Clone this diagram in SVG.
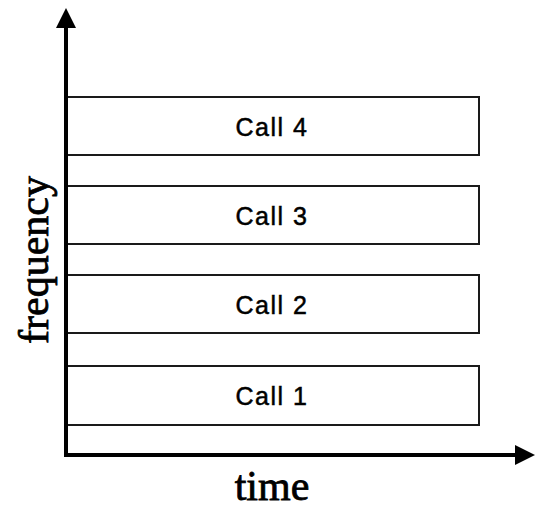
<svg xmlns="http://www.w3.org/2000/svg" width="536" height="508" viewBox="0 0 536 508">
  <style>
    .band { fill: #ffffff; stroke: #1a1a1a; stroke-width: 2; }
    .label { font-family: "Liberation Sans", Arial, sans-serif; font-size: 25px; letter-spacing: 1.5px; fill: #000; stroke: #000; stroke-width: 0.5; text-anchor: middle; }
    .axis { stroke: #000; stroke-width: 4; fill: none; }
    .axis-title { font-family: "Liberation Serif", "Times New Roman", serif; font-size: 42px; fill: #000; stroke: #000; stroke-width: 0.8; text-anchor: middle; }
  </style>
  <defs>
    <marker id="arrow" viewBox="0 0 10 10" refX="2" refY="5" markerWidth="5" markerHeight="6" markerUnits="strokeWidth" orient="auto">
      <path d="M0,0 L10,5 L0,10 Z" fill="#000"/>
    </marker>
  </defs>
  <rect width="536" height="508" fill="#ffffff"/>

  <g id="call4"><rect class="band" x="66" y="97" width="413" height="58"/><text class="label" x="272" y="136">Call 4</text></g>
  <g id="call3"><rect class="band" x="66" y="186" width="413" height="58"/><text class="label" x="272" y="225">Call 3</text></g>
  <g id="call2"><rect class="band" x="66" y="275" width="413" height="58"/><text class="label" x="272" y="314">Call 2</text></g>
  <g id="call1"><rect class="band" x="66" y="366" width="413" height="59"/><text class="label" x="272" y="405">Call 1</text></g>

  <g id="axes">
    <line class="axis" x1="66" y1="457" x2="66" y2="24" marker-end="url(#arrow)"/>
    <line class="axis" x1="64" y1="455" x2="519" y2="455" marker-end="url(#arrow)"/>
  </g>

  <text class="axis-title" x="272" y="500">time</text>
  <text class="axis-title" transform="translate(48,260) rotate(-90)">frequency</text>
</svg>
